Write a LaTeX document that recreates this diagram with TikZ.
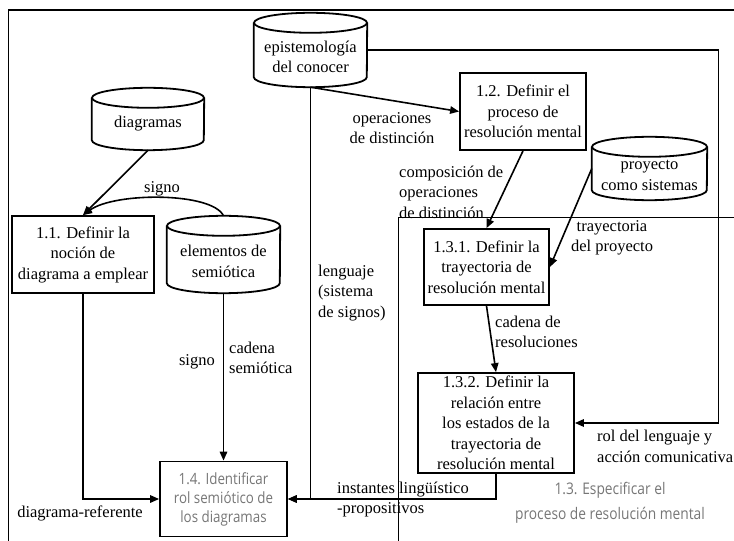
\documentclass[tikz,border=0pt]{standalone}
\usepackage{fontspec}
\setmainfont{Liberation Serif}
\newfontfamily\handfont[FakeStretch=0.86]{Open Sans}
\usetikzlibrary{arrows.meta,calc}
\definecolor{pale}{RGB}{118,118,118}

\tikzset{
  boxline/.style={line width=1.8bp},
  stepbox/.style={draw, boxline, align=center, inner sep=0pt},
  drum/.style n args={2}{inner sep=0pt, minimum width=#1bp, minimum height=#2bp},
  drumtext/.style={align=center, inner sep=0pt, yshift=-7bp},
  conn/.style={line width=1.6bp},
  arr/.style={conn, -{Triangle[length=9bp,width=7.5bp]}},
  lbl/.style={inner sep=0pt},
  hand/.style={inner sep=0pt, align=center, text=pale,
    font=\handfont\fontsize{15.5bp}{19bp}\selectfont},
}

% outline of a database drum around a named node: name, half width
\newcommand\drumshape[2]{%
  \draw[boxline] ($(#1.north)+(0,10)$) ellipse [x radius=#2, y radius=10];
  \draw[boxline] ($(#1.north west)+(0,10)$) -- ($(#1.south west)+(0,-10)$)
    arc[start angle=180, end angle=0, x radius=#2, y radius=10]
    -- ($(#1.north east)+(0,10)$);
}

\begin{document}
\begin{tikzpicture}[x=1bp,y=-1bp,font=\fontsize{16.5bp}{20.5bp}\selectfont]
\useasboundingbox (0,0) rectangle (734,541);

% enclosing frames
\draw[boxline] (8.5,550) -- (8.5,10) -- (745,10);
\draw[boxline] (398.5,550) -- (398.5,217.5) -- (745,217.5);

% data stores
\node[drum={113}{74}, label={[name=epiT, drumtext]center:{epistemología\\del conocer}}] (epi) at (310.5,50) {};
\node[drum={112}{62}, label={[name=diagT, drumtext, yshift=2bp]center:{diagramas}}] (diag) at (148,119) {};
\node[drum={113}{77}, label={[name=elemT, drumtext]center:{elementos de\\semiótica}}] (elem) at (223.5,254.5) {};
\node[drum={115}{63}, label={[name=proyT, drumtext]center:{proyecto\\como sistemas}}] (proy) at (649.5,168.5) {};
\drumshape{epi}{56.5}
\drumshape{diag}{56}
\drumshape{elem}{56.5}
\drumshape{proy}{57.5}

% process steps
\node[stepbox, minimum width=142bp, minimum height=77bp] (b11) at (83,254.5)
  {1.1. Definir la\\noción de\\diagrama a emplear};
\node[stepbox, minimum width=126bp, minimum height=77bp] (b12) at (523,111.5)
  {1.2. Definir el\\proceso de\\resolución mental};
\node[stepbox, minimum width=125bp, minimum height=76bp] (b131) at (486.5,267)
  {1.3.1. Definir la\\trayectoria de\\resolución mental};
\node[stepbox, minimum width=156bp, minimum height=100bp] (b132) at (496,423)
  {1.3.2. Definir la\\relación entre\\los estados de la\\trayectoria de\\resolución mental};
\node[stepbox, minimum width=127bp, minimum height=75bp, text=pale,
  font=\handfont\fontsize{15.5bp}{19bp}\selectfont] (b14) at (223.5,499)
  {1.4. Identificar\\rol semiótico de\\los diagramas};

% flows
\coordinate (turn) at (718.5,50);
\draw[arr] (diag.south) -- (b11.north);
\draw[arr] (elem.north) .. controls (212,192) and (115,192) .. (b11.north);
\draw[arr] (b11.south) |- (b14.west);
\draw[arr] (elem.south) -- (b14.north);
\draw[arr] (epi.south) -- (b12.west);
\draw[arr] (epi.south) |- (b14.east);
\draw[arr] (b132.south) |- (b14.east);
\draw[arr] (epi.east) -- (turn) |- (b132.east);
\draw[arr] (b12.south) -- (b131.north);
\draw[arr] (proy.west) -- (b131.east);
\draw[arr] (b131.south) -- (b132.north);

% flow labels
\node[lbl] (tSigno1) at (162,189) {signo};
\node[lbl, anchor=east] (tSigno2) at (215,362) {signo};
\node[lbl, anchor=west, align=left] (tCadSem) at (229,358) {cadena\\semiótica};
\node[lbl] (tDiagRef) at (80,513) {diagrama-referente};
\node[lbl, anchor=west, align=left] (tLeng) at (318,293) {lenguaje\\(sistema\\de signos)};
\node[lbl, align=center] (tOps) at (392,128) {operaciones\\de distinción};
\node[lbl, anchor=west, align=left] (tComp) at (399,192) {composición de\\operaciones\\de distinción};
\node[lbl, align=center] (tTray) at (612,238) {trayectoria\\del proyecto};
\node[lbl, anchor=west, align=left] (tCadRes) at (495,332) {cadena de\\resoluciones};
\node[lbl, anchor=west, align=left] (tRol) at (597,446.5) {rol del lenguaje y\\acción comunicativa};
\node[lbl, anchor=west, align=left] (tInst) at (337,499.5) {instantes lingüístico\\-propositivos};
\node[hand, font=\handfont\fontsize{16bp}{25bp}\selectfont] (t13) at (610,502.5)
  {1.3. Especificar el\\proceso de resolución mental};
\end{tikzpicture}
\end{document}
